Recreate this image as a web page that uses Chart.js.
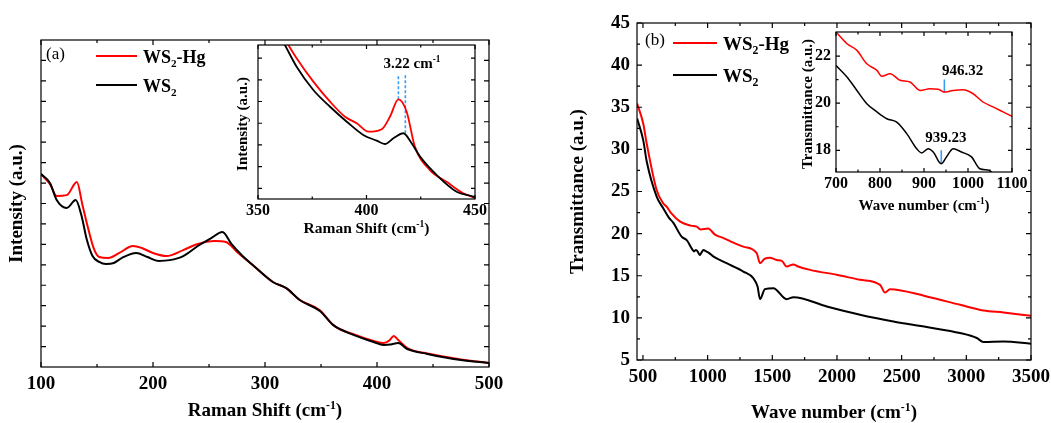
<!DOCTYPE html>
<html>
<head>
<meta charset="utf-8">
<script src="https://cdn.jsdelivr.net/npm/chart.js@4.4.1/dist/chart.umd.min.js"></script>
<style>
  html, body { margin: 0; padding: 0; background: #fff; }
  #wrap { position: relative; width: 1051px; height: 423px; }
  #wrap canvas { position: absolute; left: 0; top: 0; }
</style>
</head>
<body>
<div id="wrap">
  <canvas id="mainA" width="1051" height="423"></canvas>
  <canvas id="insetA" width="1051" height="423"></canvas>
  <canvas id="mainB" width="1051" height="423"></canvas>
  <canvas id="insetB" width="1051" height="423"></canvas>
</div>
<script>
// ---- (a) Raman spectra, intensity in arbitrary units ----
const ramanShiftWS2 = [100, 108, 114, 123, 131, 136, 141, 146, 152, 158, 165, 172, 185, 195, 205, 215, 227, 240, 252, 262, 270, 280, 289, 307, 319, 331, 349, 361, 379, 397, 406, 412, 419, 427, 445, 475, 500];
const ramanIntWS2   = [9.44, 9.00, 8.17, 7.78, 8.17, 7.44, 6.21, 5.43, 5.14, 5.04, 5.09, 5.33, 5.58, 5.38, 5.19, 5.23, 5.43, 5.92, 6.31, 6.60, 6.02, 5.43, 4.99, 4.16, 3.86, 3.28, 2.74, 2.05, 1.57, 1.22, 1.08, 1.10, 1.17, 0.88, 0.64, 0.34, 0.20];
const ramanShiftHg  = [100, 108, 114, 123, 132, 137, 142, 147, 152, 160, 170, 182, 190, 200, 212, 227, 240, 255, 265, 275, 289, 307, 319, 331, 349, 361, 379, 397, 406, 411, 415, 419, 427, 445, 475, 500];
const ramanIntHg    = [9.44, 8.95, 8.37, 8.41, 9.05, 7.93, 6.80, 5.82, 5.38, 5.33, 5.58, 5.92, 5.82, 5.58, 5.43, 5.72, 6.02, 6.16, 6.12, 5.63, 4.99, 4.16, 3.86, 3.28, 2.78, 2.05, 1.60, 1.27, 1.17, 1.30, 1.52, 1.32, 0.93, 0.66, 0.37, 0.20];

// (a) inset, 350-450 cm-1
const zoomShiftWS2 = [358, 362.4, 367.8, 375.5, 383.2, 390.9, 398.5, 404.7, 408.5, 412.4, 417, 420.8, 424.7, 432.3, 441.5, 449.2, 450];
const zoomIntWS2   = [11.1, 10.0, 8.59, 7.08, 5.99, 5.02, 4.16, 3.79, 3.57, 3.94, 4.27, 3.62, 2.75, 1.56, 0.47, 0.15, 0.10];
const zoomShiftHg  = [360, 364, 367.8, 375.5, 383.2, 390.1, 395.5, 400.9, 407, 410.8, 414.7, 418.5, 422.3, 429.2, 436.9, 444.6, 449.2, 450];
const zoomIntHg    = [10.9, 10.0, 9.14, 7.62, 6.32, 5.34, 4.92, 4.37, 4.53, 5.34, 6.47, 5.67, 3.40, 1.88, 1.12, 0.37, 0.11, 0.08];
const peakShifts   = [414.7, 417.9];
const peakTops     = [6.47, 4.27];

// ---- (b) FTIR transmittance ----
const ftirWaveWS2  = [455, 502, 530, 606, 657, 700, 734, 799, 840, 884, 895, 910, 921, 939, 951, 968, 985, 1010, 1043, 1147, 1276, 1353, 1386, 1405, 1443, 1508, 1611, 1663, 1921, 2178, 2436, 2694, 2952, 3081, 3132, 3287, 3500];
const ftirTransWS2 = [33.67, 31.10, 28.5, 24.4, 23.0, 21.9, 21.3, 19.64, 19.2, 18.07, 17.89, 18.07, 17.93, 17.45, 17.72, 18.07, 17.93, 17.72, 17.3, 16.49, 15.50, 14.71, 13.72, 12.22, 13.41, 13.53, 12.22, 12.46, 11.35, 10.37, 9.57, 8.91, 8.20, 7.61, 7.13, 7.20, 6.93];
const ftirWaveHg   = [455, 502, 529, 606, 655, 683, 720, 788, 870, 915, 946, 1003, 1060, 1119, 1190, 1276, 1380, 1405, 1440, 1480, 1534, 1575, 1611, 1663, 1700, 1792, 1998, 2178, 2333, 2372, 2410, 2694, 2952, 3132, 3287, 3500];
const ftirTransHg  = [35.45, 33.08, 30.7, 25.18, 23.64, 23.2, 22.4, 21.42, 20.95, 20.83, 20.5, 20.6, 19.84, 19.5, 19.0, 18.46, 17.67, 16.49, 17.0, 17.15, 16.88, 16.75, 16.09, 16.35, 16.1, 15.70, 15.11, 14.52, 13.92, 13.01, 13.41, 12.54, 11.55, 10.88, 10.64, 10.25];

// (b) inset, 700-1100 cm-1
const zoomWaveHg   = [700, 725, 747.5, 770, 793, 804, 823, 845.7, 868, 891, 913.6, 932.5, 946, 966.4, 989, 1011.7, 1034, 1057, 1079.6, 1100];
const zoomTransHg  = [23.02, 22.52, 22.24, 21.67, 21.39, 21.14, 21.25, 20.97, 20.90, 20.54, 20.61, 20.59, 20.47, 20.54, 20.57, 20.40, 20.05, 19.84, 19.63, 19.44];
const zoomWaveWS2  = [700, 725, 747.5, 770, 793, 815.5, 838, 860.8, 883.4, 894.7, 909.8, 921, 939, 951, 966.4, 985, 1008, 1026.8, 1049, 1057, 1080];
const zoomTransWS2 = [21.60, 21.11, 20.54, 19.98, 19.63, 19.34, 19.20, 18.71, 18.07, 17.89, 18.07, 17.93, 17.43, 17.72, 18.07, 17.93, 17.72, 17.22, 17.15, 17.0, 16.8];
const markWaves    = [946.32, 939.23];
const markTops     = [21.0, 18.0];
const markBottoms  = [20.45, 17.43];

// ---- tick labels ----
const ramanTicks     = [100, 200, 300, 400, 500];
const zoomRamanTicks = [350, 400, 450];
const waveTicks      = [500, 1000, 1500, 2000, 2500, 3000, 3500];
const transTicks     = [5, 10, 15, 20, 25, 30, 35, 40, 45];
const zoomWaveTicks  = [700, 800, 900, 1000, 1100];
const zoomTransTicks = [18, 20, 22];

const nameHg  = [['WS', ''], ['2', 'sub'], ['-Hg', '']];
const nameWS2 = [['WS', ''], ['2', 'sub']];

const FONT = '"Liberation Serif", "Times New Roman", serif';
const W = 1051, H = 423;
const RED = '#ff0000', BLACK = '#000000', BLUE = '#3a9cf2';

function range(a, b, s) { const out = []; for (let v = a; v <= b + 1e-9; v += s) out.push(+v.toFixed(3)); return out; }

// text with sub/superscripts, y is the vertical middle of the base text
function drawRich(ctx, parts, x, y, size, weight, align) {
  const widths = parts.map(([t, k]) => {
    ctx.font = weight + ' ' + (k ? size * 0.62 : size) + 'px ' + FONT;
    return ctx.measureText(t).width;
  });
  const total = widths.reduce((a, b) => a + b, 0);
  let cx = align === 'center' ? x - total / 2 : x;
  const base = y + size * 0.33;
  ctx.textAlign = 'left';
  ctx.textBaseline = 'alphabetic';
  ctx.fillStyle = '#000';
  parts.forEach(([t, k], i) => {
    ctx.font = weight + ' ' + (k ? size * 0.62 : size) + 'px ' + FONT;
    const by = k === 'sub' ? base + size * 0.22 : k === 'sup' ? base - size * 0.40 : base;
    ctx.fillText(t, cx, by);
    cx += widths[i];
  });
}

function vText(ctx, text, x, y, size) {
  ctx.save();
  ctx.translate(x, y);
  ctx.rotate(-Math.PI / 2);
  ctx.font = 'bold ' + size + 'px ' + FONT;
  ctx.fillStyle = '#000';
  ctx.textAlign = 'center';
  ctx.textBaseline = 'middle';
  ctx.fillText(text, 0, 0);
  ctx.restore();
}

function legendRow(ctx, x1, x2, y, color, parts, size) {
  ctx.strokeStyle = color;
  ctx.lineWidth = 2.2;
  ctx.beginPath(); ctx.moveTo(x1, y); ctx.lineTo(x2, y); ctx.stroke();
  drawRich(ctx, parts, x2 + 6, y + 1, size, 'bold', 'left');
}

// frame with inward ticks on all four sides, plus per-chart text
function makeDecor(cfg) {
  return {
    id: 'decor',
    beforeDatasetsDraw(chart) {
      if (!cfg.fill) return;
      const a = chart.chartArea, ctx = chart.ctx;
      ctx.save();
      ctx.fillStyle = '#fff';
      ctx.fillRect(a.left, a.top, a.right - a.left, a.bottom - a.top);
      ctx.restore();
    },
    afterDraw(chart) {
      const a = chart.chartArea, ctx = chart.ctx;
      const xs = chart.scales.x, ys = chart.scales.y;
      ctx.save();
      ctx.strokeStyle = '#000';
      ctx.lineWidth = 1.2;
      ctx.strokeRect(a.left, a.top, a.right - a.left, a.bottom - a.top);
      const tickX = (vals, len) => vals.forEach(v => {
        const p = xs.getPixelForValue(v);
        ctx.beginPath();
        ctx.moveTo(p, a.bottom); ctx.lineTo(p, a.bottom - len);
        ctx.moveTo(p, a.top); ctx.lineTo(p, a.top + len);
        ctx.stroke();
      });
      const tickY = (vals, len) => vals.forEach(v => {
        const p = ys.getPixelForValue(v);
        ctx.beginPath();
        ctx.moveTo(a.left, p); ctx.lineTo(a.left + len, p);
        ctx.moveTo(a.right, p); ctx.lineTo(a.right - len, p);
        ctx.stroke();
      });
      tickX(cfg.xMajor, cfg.len); tickX(cfg.xMinor, cfg.minorLen);
      tickY(cfg.yMajor, cfg.len); tickY(cfg.yMinor, cfg.minorLen);
      cfg.draw(ctx, xs, ys, a);
      ctx.restore();
    }
  };
}

function axisOpts(ax, dir, size) {
  return {
    type: 'linear',
    min: ax.min,
    max: ax.max,
    grid: { display: false, drawTicks: false },
    border: { display: false },
    ticks: {
      display: ax.show,
      font: { family: FONT, size: ax.fontSize, weight: 'bold' },
      color: '#000',
      padding: ax.pad,
      maxRotation: 0,
      autoSkip: false,
      callback: v => String(v)
    },
    afterBuildTicks: s => { s.ticks = ax.labels.map(v => ({ value: v })); },
    afterFit: s => {
      if (dir === 'x') { s.height = size; s.paddingLeft = 0; s.paddingRight = 0; }
      else { s.width = size; s.paddingTop = 0; s.paddingBottom = 0; }
    }
  };
}

function series(xs, ys, color, width) {
  return {
    data: xs.map((x, i) => ({ x: x, y: ys[i] })),
    borderColor: color,
    borderWidth: width,
    pointRadius: 0,
    fill: false,
    cubicInterpolationMode: 'monotone'
  };
}

function marker(x, y0, y1, dash) {
  return {
    data: [{ x: x, y: y0 }, { x: x, y: y1 }],
    borderColor: BLUE,
    borderWidth: 1.6,
    borderDash: dash,
    pointRadius: 0,
    fill: false
  };
}

function makeChart(id, box, xAxis, yAxis, datasets, decor) {
  return new Chart(document.getElementById(id), {
    type: 'line',
    data: { datasets: datasets },
    options: {
      responsive: false,
      animation: false,
      events: [],
      layout: { padding: { left: box.l - yAxis.width, top: box.t, right: W - box.r, bottom: 0 } },
      plugins: { legend: { display: false }, tooltip: { enabled: false } },
      scales: {
        x: axisOpts(xAxis, 'x', H - box.b),
        y: axisOpts(yAxis, 'y', yAxis.width)
      }
    },
    plugins: [makeDecor(decor)]
  });
}

// ---------- panel (a) ----------
makeChart('mainA', { l: 41, t: 40, r: 489, b: 367 },
  { min: 100, max: 500, labels: ramanTicks, show: true, fontSize: 19, pad: 6 },
  { min: 0, max: 16, labels: range(1, 15, 1), show: false, fontSize: 19, pad: 6, width: 41 },
  [series(ramanShiftWS2, ramanIntWS2, BLACK, 2), series(ramanShiftHg, ramanIntHg, RED, 2)],
  {
    xMajor: ramanTicks, xMinor: range(150, 450, 100), yMajor: range(1, 15, 1), yMinor: [],
    len: 5, minorLen: 3,
    draw(ctx, xs, ys, a) {
      ctx.font = '17px ' + FONT; ctx.fillStyle = '#000';
      ctx.textAlign = 'left'; ctx.textBaseline = 'middle';
      ctx.fillText('(a)', 46, 55);
      legendRow(ctx, 96, 137, 56, RED, nameHg, 18);
      legendRow(ctx, 96, 137, 85, BLACK, nameWS2, 18);
      drawRich(ctx, [['Raman Shift (cm', ''], ['-1', 'sup'], [')', '']], (a.left + a.right) / 2, 410, 19, 'bold', 'center');
      vText(ctx, 'Intensity (a.u.)', 17, (a.top + a.bottom) / 2, 19);
    }
  });

makeChart('insetA', { l: 258, t: 45, r: 475, b: 199 },
  { min: 350, max: 450, labels: zoomRamanTicks, show: true, fontSize: 16, pad: 2 },
  { min: 0, max: 10, labels: [0, 10], show: false, fontSize: 16, pad: 4, width: 30 },
  [series(zoomShiftWS2, zoomIntWS2, BLACK, 1.8), series(zoomShiftHg, zoomIntHg, RED, 1.8),
   marker(peakShifts[0], peakTops[0], 8.05, [3, 2]), marker(peakShifts[1], peakTops[1], 8.05, [3, 2])],
  {
    fill: true,
    xMajor: zoomRamanTicks, xMinor: [375, 425], yMajor: range(0.69, 9.3, 1.41), yMinor: [],
    len: 4, minorLen: 2.5,
    draw(ctx, xs, ys, a) {
      drawRich(ctx, [['3.22 cm', ''], ['-1', 'sup']], xs.getPixelForValue(421), ys.getPixelForValue(8.83), 15, 'bold', 'center');
      drawRich(ctx, [['Raman Shift (cm', ''], ['-1', 'sup'], [')', '']], (a.left + a.right) / 2, 228, 15.5, 'bold', 'center');
      vText(ctx, 'Intensity (a.u.)', 243, 124, 15);
    }
  });

// ---------- panel (b) ----------
makeChart('mainB', { l: 637, t: 23, r: 1031, b: 360 },
  { min: 454, max: 3500, labels: waveTicks, show: true, fontSize: 19, pad: 6 },
  { min: 5, max: 45, labels: transTicks, show: true, fontSize: 19, pad: 7, width: 50 },
  [series(ftirWaveWS2, ftirTransWS2, BLACK, 2), series(ftirWaveHg, ftirTransHg, RED, 2)],
  {
    xMajor: waveTicks, xMinor: range(750, 3250, 500), yMajor: transTicks, yMinor: range(7.5, 42.5, 5),
    len: 5, minorLen: 3,
    draw(ctx, xs, ys, a) {
      ctx.font = '17px ' + FONT; ctx.fillStyle = '#000';
      ctx.textAlign = 'left'; ctx.textBaseline = 'middle';
      ctx.fillText('(b)', 645, 41);
      legendRow(ctx, 673, 717, 43, RED, nameHg, 19);
      legendRow(ctx, 673, 717, 75, BLACK, nameWS2, 19);
      drawRich(ctx, [['Wave number (cm', ''], ['-1', 'sup'], [')', '']], (a.left + a.right) / 2, 412, 19, 'bold', 'center');
      vText(ctx, 'Transmittance (a.u.)', 578, (a.top + a.bottom) / 2, 19);
    }
  });

makeChart('insetB', { l: 836, t: 32, r: 1012, b: 172 },
  { min: 700, max: 1100, labels: zoomWaveTicks, show: true, fontSize: 16, pad: 2 },
  { min: 17.08, max: 23.02, labels: zoomTransTicks, show: true, fontSize: 16, pad: 5, width: 30 },
  [series(zoomWaveWS2, zoomTransWS2, BLACK, 1.5), series(zoomWaveHg, zoomTransHg, RED, 1.5),
   marker(markWaves[0], markTops[0], markBottoms[0], []), marker(markWaves[1], markTops[1], markBottoms[1], [])],
  {
    fill: true,
    xMajor: zoomWaveTicks, xMinor: range(750, 1050, 100), yMajor: zoomTransTicks, yMinor: [19, 21],
    len: 4, minorLen: 2.5,
    draw(ctx, xs, ys, a) {
      drawRich(ctx, [['946.32', '']], xs.getPixelForValue(988), ys.getPixelForValue(21.39), 15, 'bold', 'center');
      drawRich(ctx, [['939.23', '']], xs.getPixelForValue(949.5), ys.getPixelForValue(18.55), 15, 'bold', 'center');
      drawRich(ctx, [['Wave number (cm', ''], ['-1', 'sup'], [')', '']], (a.left + a.right) / 2, 205, 15, 'bold', 'center');
      vText(ctx, 'Transmittance (a.u.)', 808, 104, 15);
    }
  });
</script>
</body>
</html>
